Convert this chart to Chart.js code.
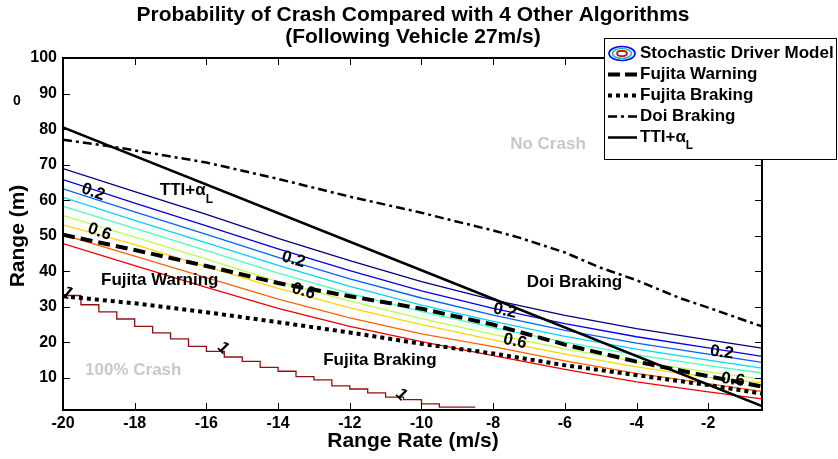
<!DOCTYPE html>
<html lang="en">
<head>
  <meta charset="UTF-8">
  <title>Probability of Crash Compared with 4 Other Algorithms</title>
  <script src="https://cdn.jsdelivr.net/npm/chart.js"></script>
  <style>
    html, body { margin: 0; padding: 0; background: #fff; }
    #chart { display: block; }
  </style>
</head>
<body>
  <canvas id="chart" width="838" height="459"></canvas>
  <script>
    // axis ticks
    const xTicks = [-20, -18, -16, -14, -12, -10, -8, -6, -4, -2];
    const yTicks = [10, 20, 30, 40, 50, 60, 70, 80, 90, 100];

    // contour lines of the stochastic driver model (probability 0.1 .. 0.9)
    const contourX = [-20, -18, -16, -14, -12, -10, -8, -6, -4, -2, -0.5];
    const level01 = [68.9, 62.4, 56.0, 49.3, 43.0, 37.1, 32.0, 27.6, 23.9, 20.7, 18.4];
    const level02 = [65.8, 59.2, 52.8, 46.3, 40.2, 34.5, 29.6, 25.3, 21.6, 18.5, 16.1];
    const level03 = [63.2, 56.7, 50.4, 43.9, 37.9, 32.5, 27.7, 23.4, 19.8, 16.7, 14.4];
    const level04 = [60.8, 54.3, 48.0, 41.7, 35.8, 30.5, 25.9, 21.7, 18.1, 15.0, 12.8];
    const level05 = [58.3, 52.1, 45.8, 39.5, 33.8, 28.7, 24.2, 20.1, 16.5, 13.5, 11.4];
    const level06 = [55.7, 49.6, 43.4, 37.1, 31.6, 26.7, 22.3, 18.2, 14.6, 11.7, 9.7];
    const level07 = [53.1, 47.5, 41.3, 35.2, 29.7, 25.0, 20.7, 16.7, 13.1, 10.2, 8.6];
    const level08 = [50.3, 44.3, 38.2, 32.2, 26.9, 22.4, 18.8, 14.8, 11.3, 8.4, 6.2];
    const level09 = [47.8, 41.6, 35.5, 29.6, 24.5, 20.2, 16.3, 12.4, 8.9, 6.1, 4.1];
    const levelColors = ['#000080', '#0000f0', '#0063ff', '#00d4ff', '#47ffb8',
                         '#b8ff47', '#ffd400', '#ff6300', '#f00000'];

    // probability 1 contour (staircase)
    const stepX = [-20, -19.5, -19, -18.5, -18, -17.5, -17, -16.5, -16, -15.5, -15, -14.5,
                   -14, -13.5, -13, -12.5, -12, -11.5, -11, -10.5, -10, -9.5, -9, -8.5];
    const stepY = [34.8, 33.2, 30.6, 28.6, 26.6, 24.5, 22.7, 21.0, 18.9, 17.5, 15.9, 14.7,
                   13.0, 11.9, 10.4, 9.5, 7.8, 6.9, 5.8, 4.6, 3.9, 2.7, 1.8, 1.8];

    // other algorithms
    const warningY = [50.3, 46.0, 41.5, 36.7, 33.0, 29.5, 25.0, 19.4, 14.6, 10.5, 7.6];
    const brakingY = [33.0, 31.0, 28.5, 25.7, 22.8, 19.6, 16.9, 13.6, 10.8, 8.0, 5.6];
    const doiX = [-20, -18.7, -16, -14, -12, -10, -9.3, -8, -7.25, -6, -5, -4, -2.8, -2, -0.5];
    const doiY = [77.0, 75.2, 70.6, 66.0, 61.0, 56.5, 54.7, 51.5, 49.4, 45.3, 41.0, 37.5, 32.5, 29.8, 24.5];
    const ttiX = [-20, -10, -0.5];
    const ttiY = [80.5, 40.3, 2.1];

    // contour labels and text notes (data coordinates)
    const contourLabels = [
      { t: '0.2', x: -19.16, y: 62.3, a: 20 }, { t: '0.6', x: -18.98, y: 51.1, a: 20 },
      { t: '0.2', x: -13.57, y: 43.3, a: 16 }, { t: '0.6', x: -13.29, y: 34.4, a: 16 },
      { t: '0.2', x: -7.67, y: 28.9, a: 12 }, { t: '0.6', x: -7.39, y: 20.3, a: 12 },
      { t: '0.2', x: -1.62, y: 17.2, a: 8 }, { t: '0.6', x: -1.31, y: 9.5, a: 8 },
      { t: '1', x: -19.88, y: 33.9, a: 40 }, { t: '1', x: -15.53, y: 18.4, a: 45 },
      { t: '1', x: -10.56, y: 5.3, a: 45 }
    ];
    const notes = [
      { t: 'Fujita Warning', x: -17.30, y: 37.4, c: '#000' },
      { t: 'Doi Braking', x: -5.73, y: 36.8, c: '#000' },
      { t: 'Fujita Braking', x: -11.16, y: 15.1, c: '#000' },
      { t: 'No Crash', x: -6.47, y: 75.7, c: '#c8c8c8' },
      { t: '100% Crash', x: -18.04, y: 12.1, c: '#c8c8c8' }
    ];

    const FONT = '"Liberation Sans", Arial, Helvetica, sans-serif';
    const pts = (xs, ys) => xs.map((x, i) => ({ x: x, y: ys[i] }));

    const datasets = [
      { label: 'TTI+αL', data: pts(ttiX, ttiY), borderColor: '#000', borderWidth: 2.5 },
      { label: 'Doi Braking', data: pts(doiX, doiY), borderColor: '#000', borderWidth: 2.5, borderDash: [9, 4, 3, 4] },
      { label: 'Fujita Warning', data: pts(contourX, warningY), borderColor: '#000', borderWidth: 4, borderDash: [12, 6] },
      { label: 'Fujita Braking', data: pts(contourX, brakingY), borderColor: '#000', borderWidth: 4, borderDash: [4, 4], borderCapStyle: 'butt' },
      { label: 'p=1', data: pts(stepX, stepY), borderColor: '#901010', borderWidth: 1.3, stepped: 'after' }
    ];
    [level01, level02, level03, level04, level05, level06, level07, level08, level09].forEach((ys, i) => {
      datasets.push({ label: 'p=' + (i + 1) / 10, data: pts(contourX, ys), borderColor: levelColors[i], borderWidth: 1.3 });
    });

    const decor = {
      id: 'decor',
      beforeDraw(chart) {
        const c = chart.ctx;
        c.save();
        c.fillStyle = '#fff';
        c.fillRect(0, 0, chart.width, chart.height);
        c.restore();
      },
      afterDatasetsDraw(chart) {
        const c = chart.ctx, a = chart.chartArea;
        const sx = chart.scales.x, sy = chart.scales.y;
        c.save();
        c.beginPath();
        c.rect(a.left, a.top, a.right - a.left, a.bottom - a.top);
        c.clip();
        c.fillStyle = '#000';
        c.textAlign = 'center';
        c.textBaseline = 'middle';
        c.font = 'bold 17px ' + FONT;
        contourLabels.forEach(l => {
          c.save();
          c.translate(sx.getPixelForValue(l.x), sy.getPixelForValue(l.y));
          c.rotate(l.a * Math.PI / 180);
          c.fillText(l.t, 0, 0);
          c.restore();
        });
        c.font = 'bold 17px ' + FONT;
        notes.forEach(n => {
          c.fillStyle = n.c;
          c.fillText(n.t, sx.getPixelForValue(n.x), sy.getPixelForValue(n.y));
        });
        // TTI+alpha_L note with subscript
        c.fillStyle = '#000';
        c.textAlign = 'left';
        const tx = sx.getPixelForValue(-17.30), ty = sy.getPixelForValue(62.7);
        c.fillText('TTI+α', tx, ty);
        const w = c.measureText('TTI+α').width;
        c.font = 'bold 12px ' + FONT;
        c.fillText('L', tx + w, ty + 9);
        c.restore();
      },
      afterDraw(chart) {
        const c = chart.ctx, a = chart.chartArea;
        const sx = chart.scales.x, sy = chart.scales.y;
        c.save();
        // ticks pointing inwards on all four sides
        c.strokeStyle = '#000';
        c.lineWidth = 1;
        c.beginPath();
        xTicks.forEach(v => {
          const px = Math.round(sx.getPixelForValue(v)) + 0.5;
          c.moveTo(px, a.bottom); c.lineTo(px, a.bottom - 7);
          c.moveTo(px, a.top); c.lineTo(px, a.top + 7);
        });
        yTicks.forEach(v => {
          const py = Math.round(sy.getPixelForValue(v)) + 0.5;
          c.moveTo(a.left, py); c.lineTo(a.left + 7, py);
          c.moveTo(a.right, py); c.lineTo(a.right - 7, py);
        });
        c.stroke();
        // axes box
        c.lineWidth = 2;
        c.strokeRect(a.left, a.top, a.right - a.left, a.bottom - a.top);

        // tick labels
        c.fillStyle = '#000';
        c.textBaseline = 'middle';
        c.font = 'bold 16px ' + FONT;
        c.textAlign = 'center';
        xTicks.forEach(v => c.fillText(String(v), sx.getPixelForValue(v), 424));
        c.textAlign = 'right';
        yTicks.forEach(v => c.fillText(String(v), 57, sy.getPixelForValue(v)));

        // titles
        c.textAlign = 'center';
        c.font = 'bold 21px ' + FONT;
        c.fillText('Probability of Crash Compared with 4 Other Algorithms', 413, 15);
        c.fillText('(Following Vehicle 27m/s)', 413, 37);
        c.fillText('Range Rate (m/s)', 413, 441);
        c.save();
        c.translate(18, 236);
        c.rotate(-Math.PI / 2);
        c.fillText('Range (m)', 0, 0);
        c.restore();
        c.font = 'bold 14px ' + FONT;
        c.fillText('0', 17, 101);

        // legend
        const lx = 604, ly = 38, lw = 232, lh = 121;
        c.fillStyle = '#fff';
        c.fillRect(lx, ly, lw, lh);
        c.lineWidth = 1;
        c.strokeStyle = '#000';
        c.strokeRect(lx + 0.5, ly + 0.5, lw, lh);
        const rows = [53.5, 74.5, 95.5, 116.5, 137.5];
        // contour icon
        [['#0000ff', 13, 7], ['#10c0b0', 9.5, 5], ['#c00000', 5, 2.6]].forEach(e => {
          c.beginPath();
          c.strokeStyle = e[0];
          c.lineWidth = 1.6;
          c.ellipse(622, rows[0], e[1], e[2], 0, 0, Math.PI * 2);
          c.stroke();
        });
        const seg = (y, width, dash) => {
          c.beginPath();
          c.strokeStyle = '#000';
          c.lineWidth = width;
          c.setLineDash(dash);
          c.moveTo(608, y);
          c.lineTo(637, y);
          c.stroke();
          c.setLineDash([]);
        };
        seg(rows[1], 4, [12, 5]);
        seg(rows[2], 4, [4, 4]);
        seg(rows[3], 2.5, [9, 4, 3, 4]);
        seg(rows[4], 2.5, []);
        c.fillStyle = '#000';
        c.textAlign = 'left';
        c.font = 'bold 17px ' + FONT;
        c.fillText('Stochastic Driver Model', 640, rows[0]);
        c.fillText('Fujita Warning', 640, rows[1]);
        c.fillText('Fujita Braking', 640, rows[2]);
        c.fillText('Doi Braking', 640, rows[3]);
        c.fillText('TTI+α', 640, rows[4]);
        const tw = c.measureText('TTI+α').width;
        c.font = 'bold 12px ' + FONT;
        c.fillText('L', 640 + tw, rows[4] + 8);
        c.restore();
      }
    };

    new Chart(document.getElementById('chart'), {
      type: 'line',
      data: { datasets: datasets },
      options: {
        responsive: false,
        animation: false,
        devicePixelRatio: 1,
        layout: { padding: { top: 58, right: 76, bottom: 0, left: 0 } },
        plugins: { legend: { display: false }, tooltip: { enabled: false }, title: { display: false } },
        elements: { point: { radius: 0 }, line: { tension: 0, fill: false } },
        scales: {
          x: {
            type: 'linear', min: -20, max: -0.5,
            grid: { display: false }, border: { display: false },
            afterBuildTicks: s => { s.ticks = xTicks.map(v => ({ value: v })); },
            afterFit: s => { s.height = 49; },
            ticks: { display: false }
          },
          y: {
            type: 'linear', min: 1, max: 100,
            grid: { display: false }, border: { display: false },
            afterBuildTicks: s => { s.ticks = yTicks.map(v => ({ value: v })); },
            afterFit: s => { s.width = 63; },
            ticks: { display: false }
          }
        }
      },
      plugins: [decor]
    });
  </script>
</body>
</html>
